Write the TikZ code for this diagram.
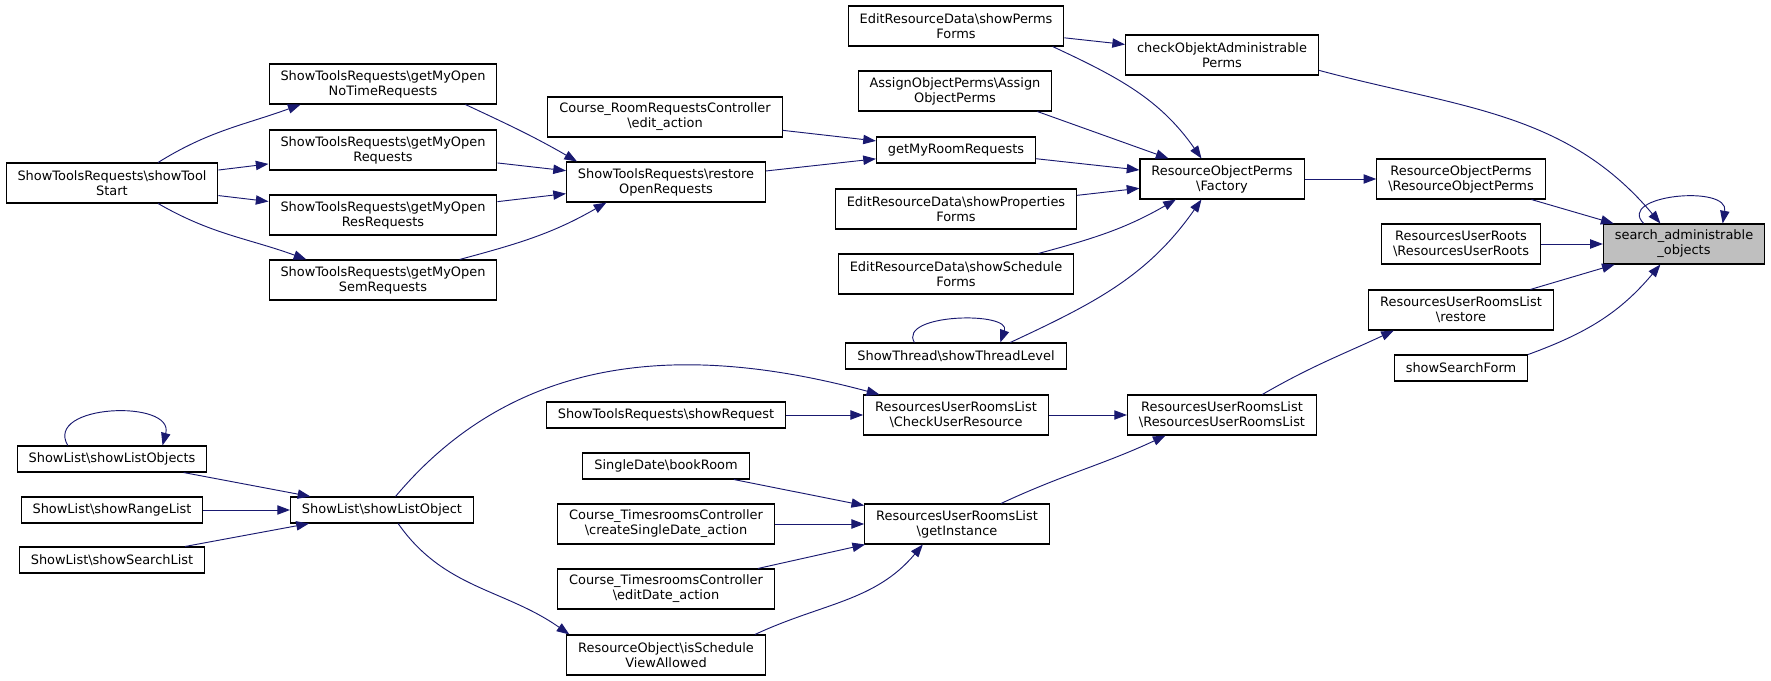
\documentclass[tikz,border=0pt]{standalone}
\usepackage{fontspec}
\setmainfont{DejaVu Sans}
\usetikzlibrary{arrows.meta}
\definecolor{edgeblue}{HTML}{191970}
\definecolor{rootgray}{HTML}{BFBFBF}
\newcommand{\bsl}{\textbackslash}
\tikzset{
	fn/.style={draw=black,line width=0.8pt,fill=white,align=center,inner xsep=8.6pt,inner ysep=2pt,minimum height=19.5pt,font=\fontsize{9.7}{11.3}\selectfont},
	fntwo/.style={fn,minimum height=30pt},
	root/.style={fntwo,fill=rootgray},
	call/.style={edgeblue,line width=0.7pt,-{Triangle[length=9.5pt,width=7pt]}}
}
\begin{document}
\begin{tikzpicture}[x=0.75pt,y=0.75pt]
	\useasboundingbox (0,0) rectangle (1771,-681);
	% callers of the request lists
	\node[fntwo] (st) at (112,-183) {ShowToolsRequests\bsl showTool\\Start};
	\node[fntwo] (nt) at (383,-84) {ShowToolsRequests\bsl getMyOpen\\NoTimeRequests};
	\node[fntwo] (oq) at (383,-150) {ShowToolsRequests\bsl getMyOpen\\Requests};
	\node[fntwo] (rr) at (383,-215) {ShowToolsRequests\bsl getMyOpen\\ResRequests};
	\node[fntwo] (sr) at (383,-280) {ShowToolsRequests\bsl getMyOpen\\SemRequests};
	\node[fntwo] (ce) at (665,-117) {Course\_RoomRequestsController\\\bsl edit\_action};
	\node[fntwo] (ro) at (666,-182) {ShowToolsRequests\bsl restore\\OpenRequests};
	\node[fn] (gr) at (956,-150) {getMyRoomRequests};
	\node[fntwo] (pf) at (956,-26) {EditResourceData\bsl showPerms\\Forms};
	\node[fntwo] (ao) at (955,-91) {AssignObjectPerms\bsl Assign\\ObjectPerms};
	\node[fntwo] (prf) at (956,-209) {EditResourceData\bsl showProperties\\Forms};
	\node[fntwo] (sf) at (956,-274) {EditResourceData\bsl showSchedule\\Forms};
	\node[fn] (tl) at (956,-356) {ShowThread\bsl showThreadLevel};
	\node[fntwo] (ck) at (1222,-55) {checkObjektAdministrable\\Perms};
	\node[fntwo] (fa) at (1222,-179) {ResourceObjectPerms\\\bsl Factory};
	\node[fntwo] (rp) at (1461,-179) {ResourceObjectPerms\\\bsl ResourceObjectPerms};
	\node[fntwo] (ur) at (1461,-244) {ResourcesUserRoots\\\bsl ResourcesUserRoots};
	\node[fntwo] (rs) at (1461,-310) {ResourcesUserRoomsList\\\bsl restore};
	\node[fn] (ssf) at (1461,-368) {showSearchForm};
	\node[root] (sao) at (1684,-244) {search\_administrable\\\_objects};
	% room list part
	\node[fntwo] (cur) at (956,-415) {ResourcesUserRoomsList\\\bsl CheckUserResource};
	\node[fntwo] (url) at (1222,-415) {ResourcesUserRoomsList\\\bsl ResourcesUserRoomsList};
	\node[fntwo] (gi) at (957,-524) {ResourcesUserRoomsList\\\bsl getInstance};
	\node[fn] (srq) at (666,-415) {ShowToolsRequests\bsl showRequest};
	\node[fn] (br) at (666,-466) {SingleDate\bsl bookRoom};
	\node[fntwo] (cs) at (666,-524) {Course\_TimesroomsController\\\bsl createSingleDate\_action};
	\node[fntwo] (ed) at (666,-589) {Course\_TimesroomsController\\\bsl editDate\_action};
	\node[fntwo] (isv) at (666,-655) {ResourceObject\bsl isSchedule\\ViewAllowed};
	\node[fn] (lo) at (382,-510) {ShowList\bsl showListObject};
	\node[fn] (los) at (112,-459) {ShowList\bsl showListObjects};
	\node[fn] (rl) at (112,-510) {ShowList\bsl showRangeList};
	\node[fn] (sl) at (112,-560) {ShowList\bsl showSearchList};
	% calls
	\draw[call] (st.24) to[out=32,in=200] (nt.194);
	\draw[call] (st) -- (oq);
	\draw[call] (st) -- (rr);
	\draw[call] (st.336) to[out=-30,in=160] (sr.165);
	\draw[call] (nt.-14) to[out=-25,in=150] (ro.167);
	\draw[call] (oq) -- (ro);
	\draw[call] (rr) -- (ro);
	\draw[call] (sr.15) to[out=15,in=210] (ro.199);
	\draw[call] (ce) -- (gr);
	\draw[call] (ro) -- (gr);
	\draw[call] (pf) -- (ck);
	\draw[call] (pf.-12) to[out=-25,in=125] (fa.135);
	\draw[call] (ao.-14) -- (fa.159);
	\draw[call] (gr) -- (fa);
	\draw[call] (prf) -- (fa);
	\draw[call] (sf.14) to[out=15,in=210] (fa.204);
	\draw[call] (tl.14) to[out=25,in=235] (fa.225);
	\draw[call] (tl.162) to[out=120,in=70] (tl.17);
	\draw[call] (fa) -- (rp);
	\draw[call] (ck.-9) to[out=-15,in=130] (sao.139);
	\draw[call] (rp) -- (sao);
	\draw[call] (ur) -- (sao);
	\draw[call] (rs) -- (sao);
	\draw[call] (ssf.north east) to[out=20,in=230] (sao.221);
	\draw[call] (sao.153) to[out=135,in=80,looseness=1.3] (sao.28);
	\draw[call] (url.27) to[out=30,in=205] (rs.197);
	\draw[call] (cur) -- (url);
	\draw[call] (gi.25) to[out=25,in=205] (url.200);
	\draw[call] (srq) -- (cur);
	\draw[call] (lo.45) to[out=50,in=165] (cur.165);
	\draw[call] (br) -- (gi);
	\draw[call] (cs) -- (gi);
	\draw[call] (ed) -- (gi);
	\draw[call] (isv.13) to[out=25,in=230] (gi.211);
	\draw[call] (lo.-40) to[out=-55,in=145] (isv.168);
	\draw[call] (los) -- (lo);
	\draw[call] (rl) -- (lo);
	\draw[call] (sl) -- (lo);
	\draw[call] (los.163) to[out=120,in=75,looseness=1.3] (los.15);
\end{tikzpicture}
\end{document}
